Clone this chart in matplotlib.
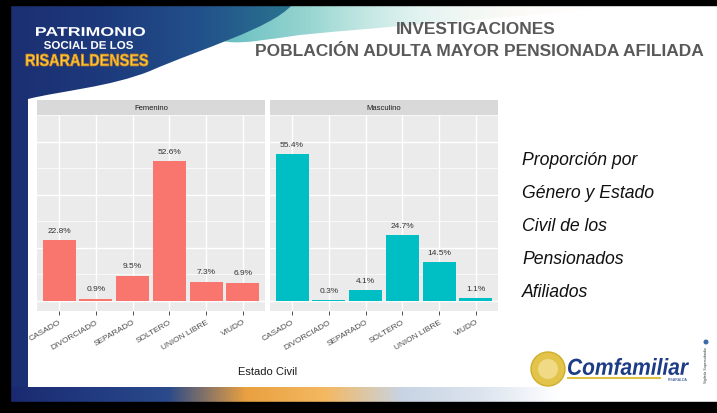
import numpy as np
import matplotlib.pyplot as plt
from matplotlib.patches import Rectangle, Circle, PathPatch
from matplotlib.path import Path
from matplotlib.textpath import TextPath
from matplotlib.font_manager import FontProperties
from matplotlib.transforms import Affine2D
from matplotlib.colors import LinearSegmentedColormap

plt.rcParams['font.family'] = ['Liberation Sans', 'DejaVu Sans']

# datos
categorias = ["CASADO", "DIVORCIADO", "SEPARADO", "SOLTERO", "UNION LIBRE", "VIUDO"]
femenino = [22.8, 0.9, 9.5, 52.6, 7.3, 6.9]
masculino = [55.4, 0.3, 4.1, 24.7, 14.5, 1.1]
paneles = ["Femenino", "Masculino"]
colores = ["#F8766D", "#00BFC4"]

titulo1 = "INVESTIGACIONES"
titulo2 = "POBLACIÓN ADULTA MAYOR PENSIONADA AFILIADA"
texto_lateral = ["Proporción por", "Género y Estado", "Civil de los", "Pensionados", "Afiliados"]

W, H = 717, 414
fig = plt.figure(figsize=(W / 100, H / 100), dpi=100)
fig.patch.set_facecolor("white")

# capa de fondo en pixeles
bg = fig.add_axes([0, 0, 1, 1])
bg.set_xlim(0, W)
bg.set_ylim(H, 0)
bg.set_autoscale_on(False)
bg.axis("off")


def degradado(ax, cols, extent, verts, codes, z=1):
    cmap = LinearSegmentedColormap.from_list("g", cols)
    grad = np.linspace(0, 1, 256).reshape(1, -1)
    im = ax.imshow(grad, cmap=cmap, extent=extent, aspect="auto", zorder=z,
                   interpolation="bilinear")
    patch = PathPatch(Path(verts, codes), facecolor="none", edgecolor="none")
    ax.add_patch(patch)
    im.set_clip_path(patch)


def texto_caja(ax, s, x0, x1, y_top, y_bot, color, weight="heavy", style="normal",
               edge="none", lw=0, z=6):
    # texto estirado para ocupar la caja dada
    fp = FontProperties(family="Liberation Sans", weight=weight, style=style)
    tp = TextPath((0, 0), s, size=10, prop=fp)
    bb = tp.get_extents()
    tr = (Affine2D().translate(-bb.x0, -bb.y0)
          .scale((x1 - x0) / bb.width, -(y_bot - y_top) / bb.height)
          .translate(x0, y_bot))
    ax.add_patch(PathPatch(tr.transform_path(tp), facecolor=color, edgecolor=edge,
                           lw=lw, zorder=z))


# onda clara superior
verts = [(200, 6), (640, 6), (520, 18), (380, 28), (300, 36), (240, 44), (200, 56), (200, 6)]
codes = [Path.MOVETO, Path.LINETO, Path.CURVE4, Path.CURVE4, Path.CURVE4,
         Path.CURVE4, Path.LINETO, Path.CLOSEPOLY]
degradado(bg, [(0.35, 0.72, 0.74, 1), (0.55, 0.82, 0.8, 0.9), (0.8, 0.92, 0.9, 0.55),
               (0.98, 0.95, 0.9, 0.3), (1, 1, 1, 0)], (200, 640, 56, 6), verts, codes, z=1)

# encabezado azul
verts = [(10, 6), (292, 6), (270, 30), (200, 50), (150, 72), (110, 88), (60, 92), (28, 100),
         (28, 400), (10, 400), (10, 6)]
codes = [Path.MOVETO, Path.LINETO, Path.CURVE4, Path.CURVE4, Path.CURVE4, Path.CURVE4,
         Path.CURVE4, Path.CURVE4, Path.LINETO, Path.LINETO, Path.CLOSEPOLY]
degradado(bg, ["#1b2f72", "#1d3a7c", "#22508a", "#2a7490"], (10, 292, 400, 6), verts, codes, z=2)

# franja inferior
verts = [(10, 388), (717, 388), (717, 403), (10, 403), (10, 388)]
codes = [Path.MOVETO, Path.LINETO, Path.LINETO, Path.LINETO, Path.CLOSEPOLY]
degradado(bg, ["#1b2a70", "#213a80", "#2a4a8a", "#e9a040", "#f4b860", "#c8d4e4",
               "#dce4ee", "#ffffff", "#ffffff", "#ffffff"], (10, 717, 403, 388), verts, codes, z=2)

# marco negro
bg.add_patch(Rectangle((0, 0), W, 6, color="black", zorder=5))
bg.add_patch(Rectangle((0, 0), 10, H, color="black", zorder=5))
bg.add_patch(Rectangle((0, 403), W, 11, color="black", zorder=5))

# logo patrimonio
texto_caja(bg, "PATRIMONIO", 36, 145, 28, 37, "white")
texto_caja(bg, "SOCIAL DE LOS", 44, 133, 42, 50, "white")
texto_caja(bg, "RISARALDENSES", 26, 148, 55, 67, "#f3d23a", edge="#e08a20", lw=0.6)

# titulos
bg.text(476, 30, titulo1, ha="center", va="center", fontsize=12.5, fontweight="bold",
        color="#595959", zorder=6)
bg.text(479, 52, titulo2, ha="center", va="center", fontsize=12.5, fontweight="bold",
        color="#595959", zorder=6)

# texto lateral
for k, linea in enumerate(texto_lateral):
    bg.text(522, 161 + k * 33, linea, ha="left", va="center", fontsize=12.7, style="italic",
            color="#111111", zorder=6)

# logo comfamiliar
bg.add_patch(Circle((548, 370), 17, facecolor="#e2c44a", edgecolor="#d2ad2a", lw=1, zorder=6))
bg.add_patch(Circle((548, 370), 10, facecolor="#f0da86", edgecolor="none", zorder=6))
texto_caja(bg, "Comfamiliar", 568, 689, 359, 376, "#1d3c86", weight="bold", style="italic")
bg.plot([568, 660], [379, 379], color="#e0c040", lw=1.5, zorder=6)
bg.text(688, 380, "RISARALDA", ha="right", va="center", fontsize=2.5, color="#1d3c86", zorder=6)
bg.add_patch(Circle((706, 343), 2.5, facecolor="#3a6aa8", edgecolor="none", zorder=6))
bg.text(706, 365, "Vigilada Supersubsidio", ha="center", va="center", fontsize=2.5,
        rotation=90, color="#333333", zorder=6)

# paneles del grafico
x = np.arange(len(categorias))
for i, (panel, vals, color) in enumerate(zip(paneles, [femenino, masculino], colores)):
    ax = fig.add_axes([(37 + i * 233) / W, 1 - 312 / H, 228 / W, 196 / H])
    ax.set_facecolor("#EBEBEB")
    ax.set_axisbelow(True)
    ax.bar(x, vals, width=0.9, color=color, zorder=2)
    ax.set_xlim(-0.6, 5.6)
    ax.set_ylim(-3.8, 70)
    ax.set_yticks([0, 20, 40, 60])
    ax.set_yticks([10, 30, 50, 70], minor=True)
    ax.grid(which="major", color="white", lw=1.0)
    ax.grid(which="minor", axis="y", color="white", lw=0.5)
    ax.tick_params(axis="y", which="both", left=False, labelleft=False)
    ax.set_xticks(x)
    ax.set_xticklabels(categorias, rotation=30, ha="right", rotation_mode="anchor",
                       fontsize=6, color="#4D4D4D")
    ax.tick_params(axis="x", length=3, width=0.6, color="#333333", pad=2)
    for s in ax.spines.values():
        s.set_visible(False)
    for xi, v in zip(x, vals):
        ax.annotate(f"{v}%", (xi, v), xytext=(0, 7), textcoords="offset points",
                    ha="center", va="center", fontsize=6, color="#333333")
    ax.add_patch(Rectangle((0, 1), 1, 15 / 196, transform=ax.transAxes,
                           facecolor="#D9D9D9", edgecolor="none", clip_on=False))
    ax.text(0.5, 1 + 7.5 / 196, panel, transform=ax.transAxes, ha="center", va="center",
            fontsize=5.5, color="#1A1A1A")

fig.text(268 / W, 1 - 372 / H, "Estado Civil", ha="center", va="center", fontsize=8,
         color="#1A1A1A")

fig.savefig("out.png", dpi=100)
